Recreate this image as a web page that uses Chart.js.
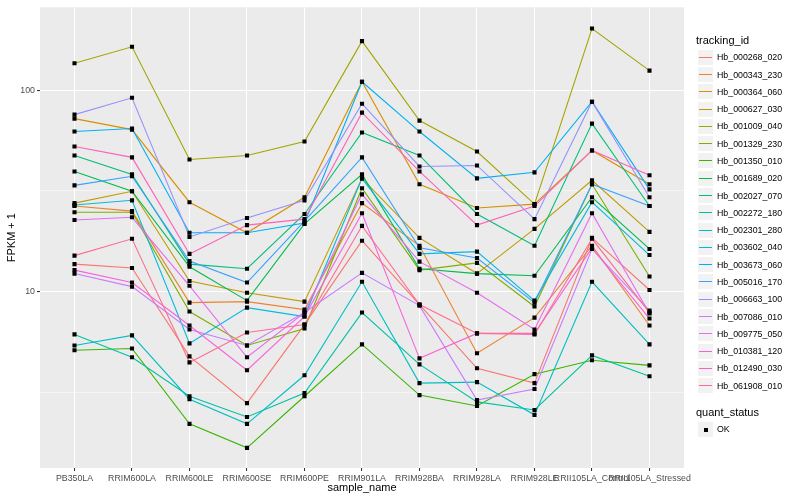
<!DOCTYPE html>
<html>
<head>
<meta charset="utf-8">
<script src="https://cdn.jsdelivr.net/npm/chart.js@4.4.1/dist/chart.umd.min.js"></script>
<style>
  body { margin: 0; background: #ffffff; font-family: "Liberation Sans", Arial, Helvetica, sans-serif; }
  #wrap { position: relative; width: 800px; height: 500px; overflow: hidden; }
  #c { position: absolute; left: 0; top: 0; }
  .lg { position: absolute; white-space: nowrap; }
  .ttl { font-size: 11px; color: #000; line-height: 13px; }
  .key { position: absolute; width: 17px; height: 17px; box-sizing: border-box; background: #F2F2F2; border: 1px solid #ffffff; }
  .seg { position: absolute; left: 1px; right: 1px; top: 7px; height: 1.3px; }
  .dot { position: absolute; left: 5.5px; top: 5.5px; width: 4px; height: 4px; background: #000; }
  .txt { font-size: 8.8px; color: #000; line-height: 10px; }
</style>
</head>
<body>
<div id="wrap">
  <canvas id="c" width="800" height="500"></canvas>
  <div id="legend"></div>
</div>
<script>
// ---------- data ----------
const categories = ["PB350LA", "RRIM600LA", "RRIM600LE", "RRIM600SE", "RRIM600PE", "RRIM901LA",
  "RRIM928BA", "RRIM928LA", "RRIM928LE", "RRII105LA_Control", "RRII105LA_Stressed"];

const trackingIds = ["Hb_000268_020", "Hb_000343_230", "Hb_000364_060", "Hb_000627_030", "Hb_001009_040",
  "Hb_001329_230", "Hb_001350_010", "Hb_001689_020", "Hb_002027_070", "Hb_002272_180",
  "Hb_002301_280", "Hb_003602_040", "Hb_003673_060", "Hb_005016_170", "Hb_006663_100",
  "Hb_007086_010", "Hb_009775_050", "Hb_010381_120", "Hb_012490_030", "Hb_061908_010"];

const seriesColors = ["#F8766D", "#EA8331", "#D89000", "#C09B00", "#A3A500",
  "#7CAE00", "#39B600", "#00BB4E", "#00BF7D", "#00C1A3",
  "#00BFC4", "#00BAE0", "#00B0F6", "#35A2FF", "#9590FF",
  "#C77CFF", "#E76BF3", "#FA62DB", "#FF62BC", "#FF6C91"];

// FPKM + 1 per sample (same order as categories)
const Hb_000268_020 = [13.7, 13.1, 4.78, 2.80, 6.87, 17.9, 8.63, 4.17, 3.52, 18.5, 10.2];
const Hb_000343_230 = [26.6, 25.1, 8.83, 8.93, 8.15, 27.5, 16.9, 4.95, 7.44, 16.9, 6.80];
const Hb_000364_060 = [72.2, 63.7, 27.8, 19.6, 29.4, 110, 34.1, 26.0, 27.2, 50.2, 34.1];
const Hb_000627_030 = [27.5, 31.5, 11.3, 9.89, 8.93, 36.5, 18.5, 12.3, 20.5, 35.7, 19.8];
const Hb_001009_040 = [136, 164, 45.3, 47.4, 55.6, 175, 70.6, 49.6, 27.2, 202, 125];
const Hb_001329_230 = [24.8, 24.8, 7.97, 5.41, 6.57, 32.6, 12.8, 13.9, 8.44, 34.1, 11.9];
const Hb_001350_010 = [5.12, 5.23, 2.21, 1.68, 3.03, 5.48, 3.07, 2.71, 3.90, 4.57, 4.31];
const Hb_001689_020 = [39.5, 31.5, 13.3, 9.03, 21.7, 38.2, 13.0, 12.3, 12.0, 29.4, 16.3];
const Hb_002027_070 = [47.4, 38.2, 13.7, 13.0, 24.3, 61.6, 47.4, 24.3, 16.9, 68.2, 26.6];
const Hb_002272_180 = [6.14, 4.73, 3.03, 2.39, 3.14, 7.88, 4.36, 2.84, 2.59, 4.83, 3.81];
const Hb_002301_280 = [5.41, 6.07, 2.93, 2.21, 3.85, 11.2, 3.52, 3.56, 2.45, 11.2, 5.48];
const Hb_003602_040 = [26.9, 28.4, 5.54, 8.34, 7.53, 36.5, 15.4, 15.8, 9.03, 27.8, 15.2];
const Hb_003673_060 = [62.3, 64.5, 19.6, 19.6, 21.9, 110, 62.3, 36.5, 39.1, 87.6, 32.2];
const Hb_005016_170 = [33.7, 37.4, 14.2, 11.1, 22.4, 46.4, 16.5, 14.7, 8.83, 34.1, 26.6];
const Hb_006663_100 = [75.6, 91.6, 18.7, 23.2, 28.4, 85.6, 41.8, 42.3, 22.9, 87.6, 29.4];
const Hb_007086_010 = [12.3, 10.6, 6.49, 5.41, 7.88, 12.4, 8.53, 2.90, 3.29, 16.3, 8.06];
const Hb_009775_050 = [22.7, 23.4, 10.7, 4.73, 7.88, 30.4, 14.1, 9.89, 6.49, 24.5, 7.79];
const Hb_010381_120 = [12.8, 11.1, 6.80, 4.08, 7.53, 24.5, 4.67, 6.21, 6.21, 16.5, 7.36];
const Hb_012490_030 = [52.5, 46.4, 15.4, 21.4, 22.9, 77.3, 39.5, 21.4, 26.6, 50.2, 37.8];
const Hb_061908_010 = [15.1, 18.3, 4.46, 6.28, 6.87, 21.2, 8.63, 6.21, 6.14, 18.3, 7.88];

const seriesValues = [Hb_000268_020, Hb_000343_230, Hb_000364_060, Hb_000627_030, Hb_001009_040,
  Hb_001329_230, Hb_001350_010, Hb_001689_020, Hb_002027_070, Hb_002272_180,
  Hb_002301_280, Hb_003602_040, Hb_003673_060, Hb_005016_170, Hb_006663_100,
  Hb_007086_010, Hb_009775_050, Hb_010381_120, Hb_012490_030, Hb_061908_010];

const yMajorTicks = [10, 100];
const yMinorTicks = [3.1623, 31.623];
const yRange = [1.335, 257.6];
const quantStatus = ["OK"];

// ---------- chart ----------
const FONT = '"Liberation Sans", Arial, Helvetica, sans-serif';

const lineSets = seriesValues.map((vals, i) => ({
  label: trackingIds[i],
  data: vals.map((v, j) => ({ x: j, y: v })),
  borderColor: seriesColors[i],
  backgroundColor: seriesColors[i],
  borderWidth: 1.1,
  pointRadius: 0,
  pointHoverRadius: 0,
  showLine: true,
  fill: false,
  tension: 0,
  order: 100 - i
}));

const pointSets = seriesValues.map((vals, i) => ({
  label: trackingIds[i] + " " + quantStatus[0],
  data: vals.map((v, j) => ({ x: j, y: v })),
  showLine: false,
  pointStyle: "rect",
  pointRadius: 2.9,
  pointHoverRadius: 2.9,
  pointBackgroundColor: "#000000",
  pointBorderColor: "#000000",
  pointBorderWidth: 0,
  order: 0
}));

const panelBg = {
  id: "panelBg",
  beforeDraw(chart) {
    const a = chart.chartArea;
    const c = chart.ctx;
    c.save();
    c.fillStyle = "#EBEBEB";
    c.fillRect(a.left, a.top, a.right - a.left, a.bottom - a.top);
    c.restore();
  }
};

const isMajorY = v => yMajorTicks.indexOf(v) >= 0;

new Chart(document.getElementById("c"), {
  type: "line",
  data: { datasets: lineSets.concat(pointSets) },
  plugins: [panelBg],
  options: {
    responsive: false,
    animation: false,
    events: [],
    layout: { padding: { left: 0, right: 116, top: 5, bottom: 0 } },
    plugins: { legend: { display: false }, tooltip: { enabled: false } },
    scales: {
      x: {
        type: "linear",
        min: -0.6,
        max: 10.6,
        afterBuildTicks: s => { s.ticks = categories.map((c, i) => ({ value: i })); },
        afterFit: s => { s.height = 32; },
        border: { display: false },
        grid: { color: "#FFFFFF", lineWidth: 1.07, tickColor: "#333333", tickLength: 3, tickWidth: 1.07 },
        ticks: {
          autoSkip: false, maxRotation: 0, minRotation: 0, padding: 2,
          color: "#4D4D4D", font: { family: FONT, size: 8.8 },
          callback: v => categories[v]
        },
        title: { display: true, text: "sample_name", color: "#000000", font: { family: FONT, size: 11 }, padding: { top: 0, bottom: 5 } }
      },
      y: {
        type: "logarithmic",
        min: yRange[0],
        max: yRange[1],
        afterBuildTicks: s => {
          s.ticks = yMinorTicks.concat(yMajorTicks).sort((a, b) => a - b).map(v => ({ value: v, major: isMajorY(v) }));
        },
        afterFit: s => { s.width = 40; },
        border: { display: false },
        grid: {
          color: "#FFFFFF",
          lineWidth: c => (c.tick && isMajorY(c.tick.value)) ? 1.07 : 0.53,
          tickColor: c => (c.tick && isMajorY(c.tick.value)) ? "#333333" : "rgba(0,0,0,0)",
          tickLength: 3,
          tickWidth: 1.07
        },
        ticks: {
          padding: 2, color: "#4D4D4D", font: { family: FONT, size: 8.8 },
          callback: v => isMajorY(v) ? String(v) : ""
        },
        title: { display: true, text: "FPKM + 1", color: "#000000", font: { family: FONT, size: 11 }, padding: { top: 5, bottom: 0 } }
      }
    }
  }
});

// ---------- legend (HTML text) ----------
const lg = document.getElementById("legend");
function add(html) { lg.insertAdjacentHTML("beforeend", html); }
add('<div class="lg ttl" style="left:696px;top:34px;">tracking_id</div>');
trackingIds.forEach((id, i) => {
  const cy = 57.3 + i * 17.28;
  add('<div class="key" style="left:697px;top:' + Math.round(cy - 8.5) + 'px;"><div class="seg" style="background:' + seriesColors[i] + ';"></div></div>');
  add('<div class="lg txt" style="left:717px;top:' + (cy - 5) + 'px;">' + id + '</div>');
});
add('<div class="lg ttl" style="left:696px;top:405.5px;">quant_status</div>');
quantStatus.forEach((q, i) => {
  const cy = 429 + i * 17.28;
  add('<div class="key" style="left:697px;top:' + Math.round(cy - 8.5) + 'px;"><div class="dot"></div></div>');
  add('<div class="lg txt" style="left:717px;top:' + (cy - 5) + 'px;">' + q + '</div>');
});
</script>
</body>
</html>
